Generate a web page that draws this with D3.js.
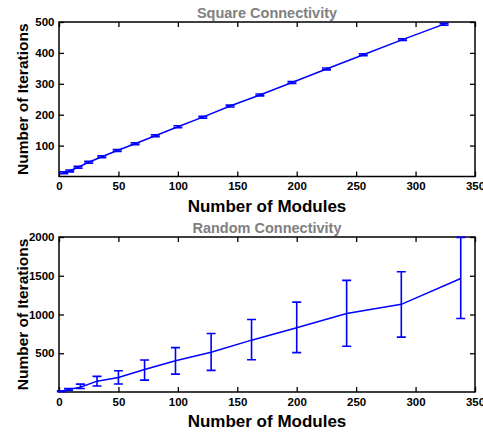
<!DOCTYPE html>
<html>
<head>
<meta charset="utf-8">
<script src="https://cdn.jsdelivr.net/npm/d3@7"></script>
<style>
  body { margin: 0; background: white; }
  svg text { font-family: "Liberation Sans", Arial, sans-serif; font-weight: bold; }
</style>
</head>
<body>
<div id="chart"></div>
<script>
// Square connectivity: modules = n^2
const sqModules = [4, 9, 16, 25, 36, 49, 64, 81, 100, 121, 144, 169, 196, 225, 256, 289, 324];
const sqIters   = [12, 18, 30, 46, 64, 84, 106, 132, 161, 192, 228, 264, 304, 348, 394, 443, 493];
const sqErr     = [3, 3, 3, 3, 3, 3, 3, 3, 3, 3, 3, 3, 3, 3, 3, 3, 3];

// Random connectivity: modules = 2n^2
const rndModules = [2, 8, 18, 32, 50, 72, 98, 128, 162, 200, 242, 288, 338];
const rndIters   = [10, 32, 62, 140, 188, 290, 404, 513, 669, 829, 1012, 1131, 1465];
const rndLow     = [5, 20, 45, 78, 103, 153, 231, 279, 417, 508, 591, 708, 949];
const rndHigh    = [15, 45, 101, 201, 274, 413, 573, 755, 935, 1160, 1440, 1552, 1995];

const xTicks = [0, 50, 100, 150, 200, 250, 300, 350];
const sqYTicks = [100, 200, 300, 400, 500];
const rndYTicks = [500, 1000, 1500, 2000];

const W = 483, H = 437;
const svg = d3.select("#chart").append("svg").attr("width", W).attr("height", H);
const blue = "#0000ff";

function panel(opts) {
  const { top, bottom, left, right, yMax, yTicks, title, xs, ys, lo, hi } = opts;
  const x = d3.scaleLinear().domain([0, 350]).range([left, right]);
  const y = d3.scaleLinear().domain([0, yMax]).range([bottom, top]);
  const g = svg.append("g");
  const fmt = d3.format("d");

  // inward ticks on all four sides
  const tk = 5;
  g.append("g").attr("transform", `translate(0,${bottom})`)
    .call(d3.axisBottom(x).tickValues(xTicks).tickSize(-tk).tickPadding(5.5).tickFormat(fmt))
    .call(a => a.select(".domain").remove());
  g.append("g").attr("transform", `translate(0,${top})`)
    .call(d3.axisTop(x).tickValues(xTicks).tickSize(-tk).tickFormat(""))
    .call(a => a.select(".domain").remove());
  g.append("g").attr("transform", `translate(${left},0)`)
    .call(d3.axisLeft(y).tickValues(yTicks).tickSize(-tk).tickPadding(4.5).tickFormat(fmt))
    .call(a => a.select(".domain").remove());
  g.append("g").attr("transform", `translate(${right},0)`)
    .call(d3.axisRight(y).tickValues(yTicks).tickSize(-tk).tickFormat(""))
    .call(a => a.select(".domain").remove());
  g.selectAll(".tick line").attr("stroke", "#000").attr("stroke-width", 1.3);
  g.selectAll(".tick text").attr("font-size", 11.5).attr("fill", "#000");

  g.append("rect").attr("x", left).attr("y", top)
    .attr("width", right - left).attr("height", bottom - top)
    .attr("fill", "none").attr("stroke", "#000").attr("stroke-width", 1.5);

  const data = xs.map((d, i) => ({ x: d, y: ys[i], lo: lo[i], hi: hi[i] }));
  const cap = 4.5;
  const eb = g.append("g").attr("stroke", blue).attr("stroke-width", 1.6).attr("fill", "none");
  data.forEach(d => {
    eb.append("path").attr("d",
      `M${x(d.x)},${y(d.lo)}V${y(d.hi)}` +
      `M${x(d.x) - cap},${y(d.lo)}H${x(d.x) + cap}` +
      `M${x(d.x) - cap},${y(d.hi)}H${x(d.x) + cap}`);
  });
  g.append("path").datum(data)
    .attr("d", d3.line().x(d => x(d.x)).y(d => y(d.y)))
    .attr("fill", "none").attr("stroke", blue).attr("stroke-width", 1.5);

  g.append("text").attr("x", (left + right) / 2).attr("y", top - 4.5)
    .attr("text-anchor", "middle").attr("font-size", 14.5).attr("fill", "#808080").text(title);
  g.append("text").attr("x", (left + right) / 2).attr("y", bottom + 35)
    .attr("text-anchor", "middle").attr("font-size", 17).attr("fill", "#000").text("Number of Modules");
  g.append("text")
    .attr("transform", `translate(28,${(top + bottom) / 2}) rotate(-90)`)
    .attr("text-anchor", "middle").attr("font-size", 15.5).attr("fill", "#000").text("Number of Iterations");
}

panel({ top: 22, bottom: 176.5, left: 59, right: 475, yMax: 500, yTicks: sqYTicks,
  title: "Square Connectivity", xs: sqModules, ys: sqIters,
  lo: sqIters.map((v, i) => v - sqErr[i]), hi: sqIters.map((v, i) => v + sqErr[i]) });

panel({ top: 237, bottom: 392, left: 59, right: 475, yMax: 2000, yTicks: rndYTicks,
  title: "Random Connectivity", xs: rndModules, ys: rndIters, lo: rndLow, hi: rndHigh });
</script>
</body>
</html>
